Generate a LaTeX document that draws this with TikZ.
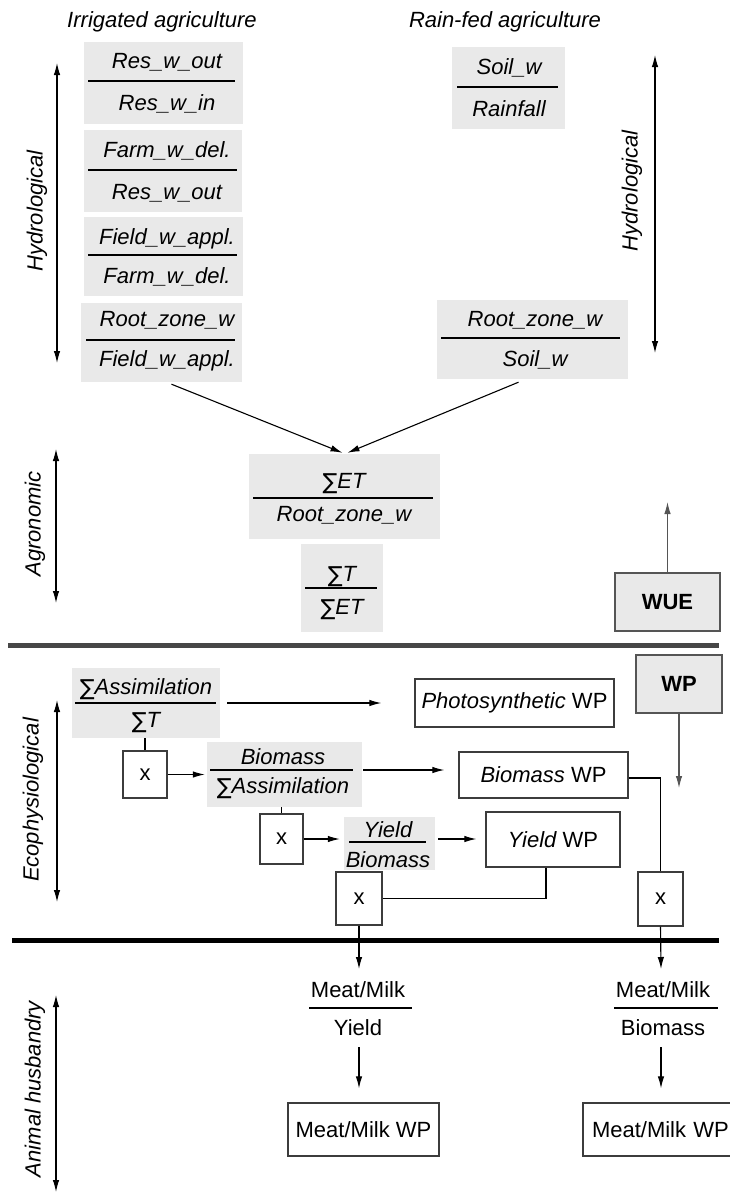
\documentclass[tikz,border=0pt]{standalone}
\usepackage{fontspec}
\setmainfont{Liberation Sans}
\newfontfamily\sigfont{DejaVu Sans}
\usetikzlibrary{arrows.meta,calc}
\definecolor{boxgray}{HTML}{E9E9E9}
\definecolor{edge}{HTML}{3C3C3C}
\definecolor{midgray}{HTML}{555555}
\definecolor{rulegray}{HTML}{474747}
% heavy upright summation sign, a little taller than the capitals
\newcommand{\Sig}{\raisebox{-1pt}{\sigfont\fontsize{22}{22}\selectfont ∑}}

\begin{document}
\begin{tikzpicture}[x=1pt,y=-1pt,
  every node/.style={font=\fontsize{22}{26}\selectfont, inner sep=0pt},
  it/.style={font=\fontsize{22}{26}\selectfont\itshape},
  num/.style={it, anchor=base},
  up/.style={anchor=base},
  gbox/.style={fill=boxgray, draw=none},
  wbox/.style={draw=edge, fill=white, line width=1.3pt},
  sbox/.style={draw=midgray, fill=boxgray, line width=1.3pt,
               font=\fontsize{22}{26}\selectfont\bfseries},
  bar/.style={line width=1.3pt},
  tip/.style={-{Latex[length=12pt,width=6.5pt]}, line width=1.1pt},
  gtip/.style={tip, draw=midgray, -{Latex[length=12pt,width=6.5pt,color=midgray]}},
  axis/.style={{Latex[length=12pt,width=6.5pt]}-{Latex[length=12pt,width=6.5pt]}, line width=1.1pt},
  conn/.style={line width=1.1pt},
  side/.style={it, rotate=90},
]
\useasboundingbox (0,0) rectangle (730,1192);

% ---------- headings ----------
\node[num] (hIrr) at (162,27) {Irrigated agriculture};
\node[num] (hRain) at (505,27) {Rain-fed agriculture};

% ---------- irrigated chain ----------
\node[gbox, minimum width=159pt, minimum height=82pt] (r1) at (163.5,83) {};
\node[num] (r1n) at (167,68) {Res\_w\_out};
\node[num] (r1d) at (167,110) {Res\_w\_in};
\draw[bar] (88,81) -- (235,81);

\node[gbox, minimum width=158pt, minimum height=82pt] (r2) at (163,171) {};
\node[num] (r2n) at (167,157) {Farm\_w\_del.};
\node[num] (r2d) at (167,199) {Res\_w\_out};
\draw[bar] (88,170) -- (237,170);

\node[gbox, minimum width=159pt, minimum height=79pt] (r3) at (163.5,256.5) {};
\node[num] (r3n) at (167,244) {Field\_w\_appl.};
\node[num] (r3d) at (167,283) {Farm\_w\_del.};
\draw[bar] (88,255) -- (237,255);

\node[gbox, minimum width=161pt, minimum height=79pt] (r4) at (161.5,342.5) {};
\node[num] (r4n) at (167,326) {Root\_zone\_w};
\node[num] (r4d) at (167,366) {Field\_w\_appl.};
\draw[bar] (86,340) -- (235,340);

% ---------- rain-fed chain ----------
\node[gbox, minimum width=113pt, minimum height=82pt] (s1) at (508.5,88) {};
\node[num] (s1n) at (509,74) {Soil\_w};
\node[num] (s1d) at (509,116) {Rainfall};
\draw[bar] (457,87) -- (558,87);

\node[gbox, minimum width=191pt, minimum height=79pt] (s2) at (532.5,339.5) {};
\node[num] (s2n) at (535,326) {Root\_zone\_w};
\node[num] (s2d) at (535,366) {Soil\_w};
\draw[bar] (441,338) -- (620,338);

% ---------- agronomic ----------
\node[gbox, minimum width=191pt, minimum height=85pt] (et) at (344.5,496.5) {};
\node[num] (etn) at (344,488) {\Sig ET};
\node[num] (etd) at (344,521) {Root\_zone\_w};
\draw[bar] (253,498) -- (433,498);

\node[gbox, minimum width=82pt, minimum height=88pt] (tr) at (342,588) {};
\node[num] (trn) at (342,581) {\Sig T};
\node[num] (trd) at (342,614) {\Sig ET};
\draw[bar] (305,588) -- (377,588);

\node[sbox, minimum width=105pt, minimum height=58pt] (wue) at (667.5,602) {WUE};
\coordinate (wueTip) at (667.5,502);

\draw[tip] ($(r4.south)+(10,2)$) -- ($(et.north)+(-2,-1)$);
\draw[tip] ($(s2.south)+(-14,3)$) -- ($(et.north)+(3,-1)$);
\draw[gtip] (wue.north) -- (wueTip);

% ---------- section rules ----------
\draw[rulegray, line width=5pt] (8,645) -- (719,645);
\draw[black, line width=5pt] (12,940) -- (719,940);

% ---------- ecophysiological ----------
\node[gbox, minimum width=148pt, minimum height=70pt] (fa) at (146,703) {};
\node[num] (fan) at (146,694) {\Sig Assimilation};
\node[num] (fad) at (146,727) {\Sig T};
\draw[bar] (75,703) coordinate (faL) -- (216,703) coordinate (faR);

\node[wbox, minimum width=199pt, minimum height=48pt] (pwp) at (514.5,703)
  {\itshape Photosynthetic\upshape\ WP};
\node[sbox, minimum width=86pt, minimum height=58pt] (wp) at (679,684) {WP};
\coordinate (wpTip) at (679,788);

\node[wbox, minimum width=44pt, minimum height=47pt] (xb1) at (145,774.5) {x};
\node[gbox, minimum width=155pt, minimum height=65pt] (fb) at (284.5,774.5) {};
\node[num] (fbn) at (283,764) {Biomass};
\node[num] (fbd) at (283,793) {\Sig Assimilation};
\draw[bar] (210,770) coordinate (fbL) -- (353,770) coordinate (fbR);

\node[wbox, minimum width=169pt, minimum height=46pt] (bwp) at (543.5,775)
  {\itshape Biomass\upshape\ WP};

\node[wbox, minimum width=43pt, minimum height=50pt] (xb2) at (281.5,839) {x};
\node[gbox, minimum width=91pt, minimum height=53pt] (fy) at (389.5,843.5) {};
\node[num] (fyn) at (388,837) {Yield};
\node[num] (fyd) at (388,867) {Biomass};
\draw[bar] (349,842) -- (426,842);

\node[wbox, minimum width=134pt, minimum height=55pt] (ywp) at (553,839.5)
  {\itshape Yield\upshape\ WP};

\node[wbox, minimum width=46pt, minimum height=53pt] (xb3) at (359,898.5) {x};
\node[wbox, minimum width=45pt, minimum height=54pt] (xb4) at (660.5,899) {x};

\draw[tip] ($(faR)+(11,0)$) -- ($(pwp.west |- faR)+(-33,0)$);
\draw[gtip] (wp.south) -- (wpTip);
\draw[conn] (xb1.north |- fa.south) -- (xb1.north);
\draw[tip] (xb1.east) -- ($(fb.west |- xb1.east)+(-2,0)$);
\draw[tip] ($(fbR)+(10,0)$) -- ($(bwp.west |- fbR)+(-14,0)$);
\draw[conn] (xb2.north |- fb.south) -- (xb2.north);
\draw[tip] (xb2.east) -- ($(fy.west |- xb2.east)+(-4,0)$);
\draw[tip] ($(fy.east |- xb2.east)+(3,0)$) -- ($(ywp.west |- xb2.east)+(-9,0)$);
\draw[conn] ($(bwp.east)+(0,3)$) -| (xb4.north);
\draw[conn] ($(ywp.south)+(-7,0)$) |- (xb3.east);

% ---------- animal husbandry ----------
\coordinate (mlTop) at (359,969);
\coordinate (mrTop) at (661,969);
\node[up] (mlN) at (358,997) {Meat/Milk};
\node[up] (mlD) at (358,1035) {Yield};
\draw[bar] (309,1008) -- (412,1008);
\node[up] (mrN) at (663,997) {Meat/Milk};
\node[up] (mrD) at (663,1035) {Biomass};
\draw[bar] (614,1008) -- (718,1008);

\node[wbox, minimum width=151pt, minimum height=53pt] (mwL) at (363.5,1129.5) {Meat/Milk WP};
\node[wbox, minimum width=154pt, minimum height=53pt, text width=146pt, align=left]
  (mwR) at (660,1129.5) {\hspace*{5pt}Meat/Milk WP};
\coordinate (mlLow) at (359,1047);
\coordinate (mrLow) at (661,1047);

\draw[tip] (xb3.south) -- (mlTop);
\draw[tip] (xb4.south) -- (mrTop);
\draw[tip] (mlLow) -- ($(mwL.north -| mlLow)+(0,-14)$);
\draw[tip] (mrLow) -- ($(mwR.north -| mrLow)+(0,-14)$);

% ---------- level axes ----------
\draw[axis] (57,63) coordinate (hyA) -- (57,363) coordinate (hyB);
\node[side] (hyL) at (37,211) {Hydrological};
\draw[axis] (655,55) coordinate (hyC) -- (655,353) coordinate (hyD);
\node[side] (hyR) at (632,191) {Hydrological};
\draw[axis] (56,449) coordinate (agA) -- (56,603) coordinate (agB);
\node[side] (agL) at (35,524) {Agronomic};
\draw[axis] (57,700) coordinate (ecA) -- (57,902) coordinate (ecB);
\node[side] (ecL) at (33,800) {Ecophysiological};
\draw[axis] (56,995) coordinate (anA) -- (56,1192) coordinate (anB);
\node[side] (anL) at (35,1089) {Animal husbandry};
\end{tikzpicture}
\end{document}
